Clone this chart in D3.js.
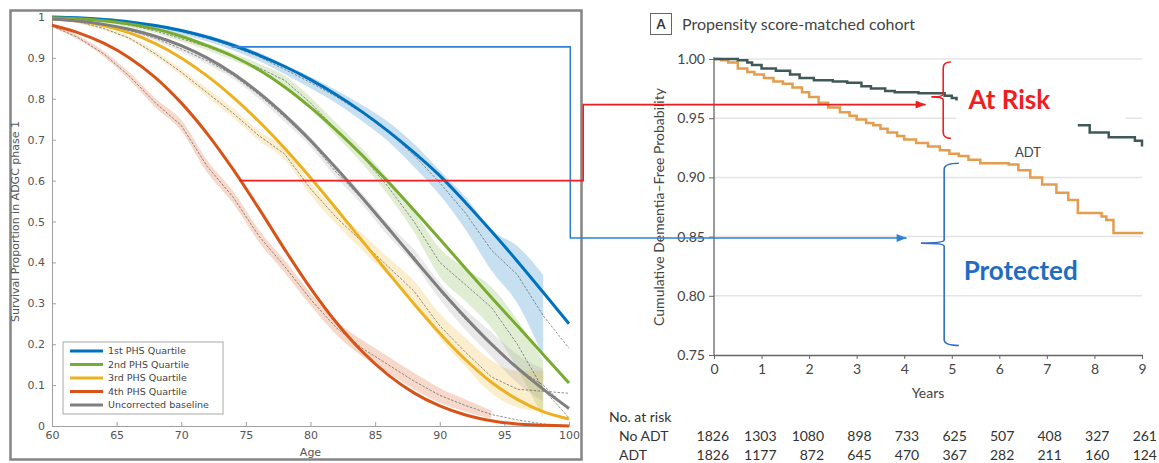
<!DOCTYPE html>
<html><head><meta charset="utf-8">
<script src="https://cdn.jsdelivr.net/npm/d3@7"></script>
<style>body{margin:0;background:#fff} svg{display:block}</style>
</head><body><div id="chart"></div>
<script>
// ---------- left panel: survival by PHS quartile ----------
const ages = [60,62,64,66,68,70,72,74,76,78,80,82,84,86,88,90,92,94,96,98,100];
const seriesNames = ["1st PHS Quartile","2nd PHS Quartile","3rd PHS Quartile","4th PHS Quartile","Uncorrected baseline"];
const seriesColors = ["#0072bd","#77ac30","#edb120","#d95319","#7f7f7f"];

// fitted curves
const blueFit   = [1.0,0.998,0.994,0.988,0.979,0.967,0.951,0.931,0.907,0.879,0.847,0.81,0.768,0.721,0.669,0.612,0.546,0.476,0.403,0.327,0.25];
const greenFit  = [0.998,0.996,0.991,0.983,0.971,0.953,0.93,0.904,0.871,0.829,0.779,0.723,0.662,0.597,0.528,0.457,0.385,0.314,0.245,0.175,0.105];
const yellowFit = [0.995,0.99,0.979,0.961,0.935,0.9,0.856,0.804,0.745,0.679,0.607,0.531,0.453,0.375,0.299,0.227,0.162,0.107,0.065,0.035,0.017];
const redFit    = [0.98,0.962,0.936,0.9,0.852,0.79,0.715,0.628,0.532,0.432,0.337,0.253,0.182,0.125,0.081,0.049,0.027,0.013,0.005,0.002,0];
const grayFit   = [0.995,0.99,0.982,0.97,0.953,0.93,0.9,0.862,0.815,0.76,0.698,0.63,0.558,0.484,0.409,0.335,0.265,0.2,0.142,0.09,0.043];

// Kaplan-Meier estimates (dashed) and band half-widths
const blueKM   = [1.0,0.998,0.994,0.987,0.977,0.964,0.948,0.928,0.903,0.872,0.84,0.805,0.765,0.72,0.662,0.595,0.52,0.43,0.37,0.27,0.19];
const greenKM  = [0.998,0.996,0.99,0.98,0.966,0.947,0.927,0.903,0.876,0.845,0.79,0.725,0.66,0.585,0.5,0.4,0.345,0.29,0.2,0.09,0.02];
const yellowKM = [0.995,0.988,0.972,0.948,0.91,0.865,0.815,0.765,0.71,0.665,0.58,0.51,0.45,0.39,0.33,0.245,0.18,0.12,0.09,0.085,0.08];
const redKM    = [0.978,0.95,0.91,0.855,0.79,0.735,0.635,0.56,0.465,0.39,0.31,0.24,0.19,0.15,0.11,0.075,0.05,0.028,0.015,0.005,0];
const grayKM   = [0.995,0.99,0.98,0.967,0.948,0.922,0.893,0.858,0.81,0.755,0.695,0.62,0.555,0.48,0.415,0.33,0.26,0.2,0.14,0.1,0.04];

const blueHW   = [0.002,0.003,0.004,0.005,0.006,0.007,0.008,0.009,0.01,0.012,0.014,0.016,0.02,0.024,0.028,0.03,0.04,0.05,0.07,0.1,null];
const greenHW  = [0.002,0.003,0.004,0.005,0.006,0.007,0.008,0.009,0.01,0.012,0.014,0.016,0.018,0.02,0.025,0.035,0.04,0.05,0.06,0.07,null];
const yellowHW = [0.002,0.003,0.004,0.005,0.007,0.008,0.01,0.011,0.012,0.014,0.015,0.017,0.02,0.022,0.025,0.03,0.035,0.04,0.045,0.05,null];
const redHW    = [0.003,0.005,0.007,0.009,0.011,0.013,0.015,0.015,0.015,0.015,0.015,0.017,0.02,0.02,0.02,0.018,0.015,0.01,null,null,null];
const grayHW   = [0.002,0.003,0.004,0.005,0.006,0.007,0.008,0.009,0.01,0.011,0.012,0.013,0.014,0.015,0.017,0.02,0.025,0.03,0.035,0.04,null];

const fits = [blueFit, greenFit, yellowFit, redFit, grayFit];
const kms  = [blueKM, greenKM, yellowKM, redKM, grayKM];
const hws  = [blueHW, greenHW, yellowHW, redHW, grayHW];
const bandColors = ["#0072bd","#77ac30","#edb120","#d95319","#9a9a9a"];

const ageTicks = [60,65,70,75,80,85,90,95,100];
const survTicks = [0,0.1,0.2,0.3,0.4,0.5,0.6,0.7,0.8,0.9,1];

// ---------- right panel: ADT cohort ----------
const noAdtYears = [0,0.5,0.7,0.8,1.0,1.3,1.6,1.8,2.1,2.5,2.8,3.1,3.3,3.6,3.8,4.3,4.85,5.0,5.1,5.12,7.65,7.9,8.3,8.85,9.0];
const noAdtSurv  = [1.0,0.999,0.997,0.995,0.992,0.99,0.987,0.984,0.982,0.981,0.98,0.977,0.975,0.973,0.972,0.971,0.969,0.967,0.965,null,0.944,0.938,0.934,0.931,0.926];
const adtYears = [0,0.15,0.3,0.5,0.7,0.85,1.05,1.25,1.45,1.65,1.85,2.0,2.2,2.4,2.65,2.85,3.0,3.2,3.35,3.5,3.65,3.85,4.0,4.25,4.5,4.75,4.95,5.15,5.35,5.6,6.2,6.4,6.65,6.9,7.2,7.45,7.65,8.15,8.25,8.4,9.0];
const adtSurv  = [1.0,0.999,0.997,0.992,0.989,0.987,0.984,0.981,0.979,0.976,0.972,0.968,0.963,0.959,0.955,0.952,0.949,0.946,0.944,0.941,0.938,0.935,0.932,0.929,0.926,0.923,0.92,0.918,0.915,0.912,0.911,0.906,0.9,0.894,0.887,0.881,0.87,0.867,0.864,0.853,0.852];
const riskYears = [0,1,2,3,4,5,6,7,8,9];
const noAdtRisk = [1826,1303,1080,898,733,625,507,408,327,261];
const adtRisk   = [1826,1177,872,645,470,367,282,211,160,124];
const probTicks = [0.75,0.80,0.85,0.90,0.95,1.00];

const W = 1159, H = 463;
const svg = d3.select("#chart").append("svg").attr("width", W).attr("height", H)
  .style("background", "#fff");

// ===== left panel =====
const xL = d3.scaleLinear().domain([60, 100]).range([52, 569]);
const yL = d3.scaleLinear().domain([0, 1]).range([426, 17]);
const clamp = v => Math.max(0, Math.min(1, v));

svg.append("rect").attr("x", 10.5).attr("y", 10.5).attr("width", 571).attr("height", 449)
  .attr("fill", "none").attr("stroke", "#858585").attr("stroke-width", 2.5);

const left = svg.append("g").style("font-family", "'DejaVu Sans', sans-serif");

const xAxL = left.append("g").attr("transform", `translate(0,${yL(0)})`)
  .call(d3.axisBottom(xL).tickValues(ageTicks).tickSizeInner(-4).tickSizeOuter(0).tickPadding(5));
const yAxL = left.append("g").attr("transform", `translate(${xL(60)},0)`)
  .call(d3.axisLeft(yL).tickValues(survTicks).tickSizeInner(-4).tickSizeOuter(0).tickPadding(7)
    .tickFormat(d => (d === 0 || d === 1) ? d : d.toFixed(1)));
[xAxL, yAxL].forEach(a => {
  a.select(".domain").attr("stroke", "#a0a0a0");
  a.selectAll("line").attr("stroke", "#a0a0a0");
  a.selectAll("text").attr("fill", "#555").style("font-size", "11px").style("font-family", "'DejaVu Sans', sans-serif");
});

left.append("text").attr("x", xL(80)).attr("y", 456).attr("text-anchor", "middle")
  .attr("fill", "#555").style("font-size", "11px").text("Age");
left.append("text").attr("transform", `translate(19,${(yL(0)+yL(1))/2}) rotate(-90)`)
  .attr("text-anchor", "middle").attr("fill", "#555").style("font-size", "11px")
  .text("Survival Proportion in ADGC phase 1");

// bands
hws.forEach((hw, s) => {
  const area = d3.area()
    .defined((d, i) => hw[i] != null)
    .x((d, i) => xL(ages[i]))
    .y0((d, i) => yL(clamp(kms[s][i] - hw[i])))
    .y1((d, i) => yL(clamp(kms[s][i] + hw[i])))
    .curve(d3.curveMonotoneX);
  left.append("path").attr("d", area(ages)).attr("fill", bandColors[s]).attr("fill-opacity", 0.22);
});
// KM dashed lines
kms.forEach(km => {
  const line = d3.line().x((d, i) => xL(ages[i])).y(d => yL(d)).curve(d3.curveLinear);
  left.append("path").attr("d", line(km)).attr("fill", "none")
    .attr("stroke", "#444").attr("stroke-opacity", 0.75).attr("stroke-width", 0.8)
    .attr("stroke-dasharray", "2.5,1.5");
});
// fitted lines
fits.forEach((f, s) => {
  const line = d3.line().x((d, i) => xL(ages[i])).y(d => yL(d)).curve(d3.curveMonotoneX);
  left.append("path").attr("d", line(f)).attr("fill", "none")
    .attr("stroke", seriesColors[s]).attr("stroke-width", 3);
});

// legend
const leg = left.append("g").attr("transform", "translate(63,342)");
leg.append("rect").attr("width", 160).attr("height", 72).attr("fill", "#fff").attr("stroke", "#a8a8a8");
seriesNames.forEach((n, i) => {
  const yy = 9 + i * 13.5;
  leg.append("line").attr("x1", 7).attr("x2", 40).attr("y1", yy).attr("y2", yy)
    .attr("stroke", seriesColors[i]).attr("stroke-width", 3);
  leg.append("text").attr("x", 45).attr("y", yy).attr("dy", "0.35em")
    .attr("fill", "#444").style("font-size", "9.5px").text(n);
});

// ===== right panel =====
const xR = d3.scaleLinear().domain([0, 9]).range([714, 1142]);
const yR = d3.scaleLinear().domain([0.75, 1]).range([355, 59]);
const right = svg.append("g").style("font-family", "Lato, sans-serif");

// grid
right.selectAll("line.grid").data(probTicks.slice(1)).join("line").attr("class", "grid")
  .attr("x1", xR(0)).attr("x2", xR(9)).attr("y1", d => yR(d)).attr("y2", d => yR(d))
  .attr("stroke", "#e4e4e4").attr("stroke-width", 1.5);
// white patch behind the "At Risk" note
right.append("rect").attr("x", xR(5.1)).attr("y", yR(0.975))
  .attr("width", xR(8.65) - xR(5.1)).attr("height", yR(0.946) - yR(0.975)).attr("fill", "#fff");

const xAxR = right.append("g").attr("transform", `translate(0,${yR(0.75)})`)
  .call(d3.axisBottom(xR).tickValues(riskYears).tickSizeInner(4).tickSizeOuter(0).tickPadding(5).tickFormat(d3.format("d")));
const yAxR = right.append("g").attr("transform", `translate(${xR(0)},0)`)
  .call(d3.axisLeft(yR).tickValues(probTicks).tickSizeInner(5).tickSizeOuter(0).tickPadding(4).tickFormat(d3.format(".2f")));
[xAxR, yAxR].forEach(a => {
  a.select(".domain").attr("stroke", "#666").attr("stroke-width", 1.3);
  a.selectAll("line").attr("stroke", "#666");
  a.selectAll("text").attr("fill", "#444").style("font-size", "14px").style("font-family", "Lato, sans-serif");
});
yAxR.select(".domain").attr("d", `M0,${yR(1) - 2}V${yR(0.75)}`);

right.append("text").attr("x", xR(4.5)).attr("y", 398).attr("text-anchor", "middle")
  .attr("fill", "#444").style("font-size", "14px").text("Years");
right.append("text").attr("transform", `translate(664,${(yR(0.75)+yR(1))/2}) rotate(-90)`)
  .attr("text-anchor", "middle").attr("fill", "#444").style("font-size", "14px")
  .text("Cumulative Dementia–Free Probability");

// title
right.append("rect").attr("x", 650.5).attr("y", 13.5).attr("width", 21).attr("height", 21)
  .attr("fill", "#fff").attr("stroke", "#666");
right.append("text").attr("x", 661).attr("y", 29).attr("text-anchor", "middle")
  .attr("fill", "#333").style("font-size", "13px").style("font-weight", "bold").text("A");
right.append("text").attr("x", 682).attr("y", 30).attr("fill", "#444")
  .style("font-size", "16px").text("Propensity score-matched cohort");

// curves
const stepLine = d3.line().defined(d => d[1] != null)
  .x(d => xR(d[0])).y(d => yR(d[1])).curve(d3.curveStepAfter);
right.append("path").attr("d", stepLine(adtYears.map((t, i) => [t, adtSurv[i]])))
  .attr("fill", "none").attr("stroke", "#e49d4e").attr("stroke-width", 2.5);
right.append("path").attr("d", stepLine(noAdtYears.map((t, i) => [t, noAdtSurv[i]])))
  .attr("fill", "none").attr("stroke", "#3f5858").attr("stroke-width", 2.5);
right.append("text").attr("x", xR(6.6)).attr("y", yR(0.9175)).attr("text-anchor", "middle")
  .attr("fill", "#444").style("font-size", "13px").text("ADT");

// risk table
right.append("text").attr("x", 609).attr("y", 422).attr("fill", "#333").style("font-size", "14px").text("No. at risk");
right.append("text").attr("x", 619).attr("y", 441).attr("fill", "#333").style("font-size", "14px").text("No ADT");
right.append("text").attr("x", 619).attr("y", 460).attr("fill", "#333").style("font-size", "14px").text("ADT");
[[noAdtRisk, 441], [adtRisk, 460]].forEach(([arr, yy]) => {
  right.selectAll(null).data(arr).join("text")
    .attr("x", (d, i) => xR(riskYears[i]) + 15).attr("y", yy).attr("text-anchor", "end")
    .attr("fill", "#333").style("font-size", "14px").text(d => d);
});

// ===== annotations =====
const ann = svg.append("g");
const defs = svg.append("defs");
[["arrRed", "#f01e1e"], ["arrBlue", "#2f82d2"]].forEach(([id, c]) => {
  defs.append("marker").attr("id", id).attr("viewBox", "0 0 10 8").attr("refX", 10).attr("refY", 4)
    .attr("markerWidth", 11).attr("markerHeight", 8).attr("markerUnits", "userSpaceOnUse")
    .attr("orient", "auto").append("path").attr("d", "M0,0L10,4L0,8Z").attr("fill", c);
});

// blue: 1st quartile -> protected
ann.append("path")
  .attr("d", `M${xL(73.9)},${yL(0.927)}H${xL(100.1)}V${yR(0.8488)}H${xR(4.05)}`)
  .attr("fill", "none").attr("stroke", "#2f82d2").attr("stroke-width", 1.6).attr("marker-end", "url(#arrBlue)");
// red: 4th quartile -> at risk
ann.append("path")
  .attr("d", `M${xL(74.5)},${yL(0.6)}H${xL(101.1)}V${yR(0.9615)}H${xR(4.45)}`)
  .attr("fill", "none").attr("stroke", "#f01e1e").attr("stroke-width", 1.6).attr("marker-end", "url(#arrRed)");

function brace(x, top, bottom, mid, hookX, nubX, color) {
  ann.append("path")
    .attr("d", `M${hookX},${top}Q${x},${top} ${x},${top + 6}V${mid - 3}Q${x},${mid} ${nubX},${mid}` +
      `Q${x},${mid} ${x},${mid + 3}V${bottom - 6}Q${x},${bottom} ${hookX},${bottom}`)
    .attr("fill", "none").attr("stroke", color).attr("stroke-width", 1.6);
}
brace(xR(4.82), yR(0.9975), yR(0.933), yR(0.968), xR(4.98), xR(4.57), "#f01e1e");
brace(xR(4.84), yR(0.912), yR(0.758), yR(0.8445), xR(5.15), xR(4.35), "#2f6fc4");

ann.append("text").attr("x", xR(5.35)).attr("y", yR(0.9575)).attr("fill", "#f01e1e")
  .style("font-family", "Lato, sans-serif").style("font-weight", "bold").style("font-size", "26px").text("At Risk");
ann.append("text").attr("x", xR(5.25)).attr("y", yR(0.8135)).attr("fill", "#1f6cc0")
  .style("font-family", "Lato, sans-serif").style("font-weight", "bold").style("font-size", "26px").text("Protected");
</script>
</body></html>
